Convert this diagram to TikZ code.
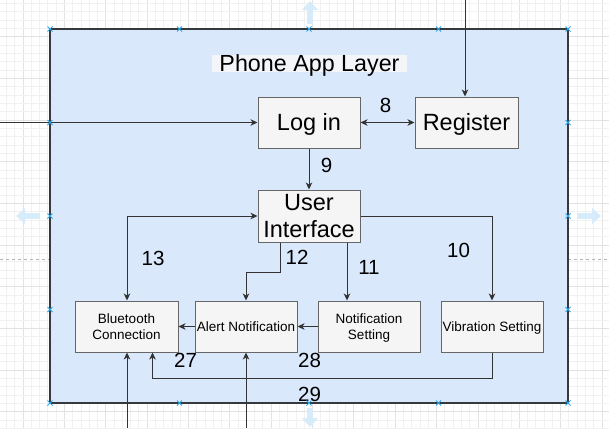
\documentclass[tikz,border=0pt]{standalone}
\usepackage{fontspec}
\setmainfont{Liberation Sans}
\usetikzlibrary{arrows.meta,calc}
\definecolor{contfill}{HTML}{DAE8FC}
\definecolor{contline}{HTML}{36393D}
\definecolor{boxfill}{HTML}{F5F5F5}
\definecolor{boxline}{HTML}{666666}
\definecolor{arrline}{HTML}{333333}
\definecolor{gridminor}{HTML}{F1F1F1}
\definecolor{gridmajor}{HTML}{E2E2E2}
\definecolor{hoverblue}{RGB}{214,236,250}
\definecolor{handle}{HTML}{29A8EC}
\definecolor{titlebg}{HTML}{F3F5F8}
\tikzset{
  bigbox/.style={draw=boxline, fill=boxfill, line width=1pt, inner sep=0pt,
    font=\fontsize{23.5}{27}\selectfont, align=center,
    text height=16.8pt, text depth=0pt},
  bigboxtwo/.style={bigbox, text height=43.8pt},
  smallbox/.style={draw=boxline, fill=boxfill, line width=1pt, inner sep=0pt,
    font=\fontsize{13.5}{16}\selectfont, align=center,
    text height=9.7pt, text depth=0pt,
    minimum width=102pt, minimum height=51pt},
  smallboxtwo/.style={smallbox, text height=25.7pt},
  arr/.style={draw=arrline, line width=0.9pt, -{Stealth[length=7pt,width=6.5pt,inset=2pt]}},
  dblarr/.style={draw=arrline, line width=0.9pt, {Stealth[length=7pt,width=6.5pt,inset=2pt]}-{Stealth[length=7pt,width=6.5pt,inset=2pt]}},
  numlbl/.style={font=\fontsize{20.5}{24}\selectfont, inner sep=0pt, text height=14.7pt, text depth=0pt},
  handlemark/.style={draw=handle, line width=1pt},
}
\begin{document}
\begin{tikzpicture}[x=1pt,y=-1pt]
\useasboundingbox (0,0) rectangle (609,428);
\fill[white] (0,0) rectangle (609,428);
% grid
\foreach \k in {0,...,73} {
  \pgfmathsetmacro{\gx}{6.5+\k*8.27}
  \pgfmathtruncatemacro{\m}{mod(\k+3,5)}
  \ifnum\m=0 \draw[gridmajor, line width=0.8pt] (\gx,0) -- (\gx,428);
  \else \draw[gridminor, line width=0.8pt] (\gx,0) -- (\gx,428); \fi
}
\foreach \k in {0,...,51} {
  \pgfmathsetmacro{\gy}{3.5+\k*8.33}
  \pgfmathtruncatemacro{\m}{mod(\k+1,5)}
  \ifnum\m=0 \draw[gridmajor, line width=0.8pt] (0,\gy) -- (609,\gy);
  \else \draw[gridminor, line width=0.8pt] (0,\gy) -- (609,\gy); \fi
}
% page break dashes
\draw[gray!60, dashed, line width=0.7pt] (0,259) -- (50,259);
\draw[gray!60, dashed, line width=0.7pt] (568,259) -- (609,259);
% hover arrows
\fill[hoverblue] (307,8) rectangle (313,24);
\fill[hoverblue] (302,10) -- (310,1) -- (318,10) -- cycle;
\fill[hoverblue] (25,213) rectangle (40,219);
\fill[hoverblue] (25,208) -- (16,216) -- (25,224) -- cycle;
\fill[hoverblue] (577,213) rectangle (592,219);
\fill[hoverblue] (592,208) -- (601,216) -- (592,224) -- cycle;
\fill[hoverblue] (307,408) rectangle (313,419);
\fill[hoverblue] (302,418) -- (310,427) -- (318,418) -- cycle;
% container
\node[draw=contline, fill=contfill, line width=1.2pt, minimum width=518pt, minimum height=374pt, inner sep=0pt] (layer) at (309,216) {};
% title
\fill[titlebg] (212,55) rectangle (407,72);
\node[anchor=base, inner sep=0pt, font=\fontsize{23.3}{27}\selectfont] (title) at (309.5,71.5) {Phone App Layer};
% boxes
\node[bigbox, minimum width=102pt, minimum height=51pt] (login) at (309,122.5) {Log in};
\node[bigbox, minimum width=103pt, minimum height=51pt] (register) at (466.5,122.5) {Register};
\node[bigboxtwo, minimum width=102pt, minimum height=52pt] (ui) at (309,216) {User\\Interface};
\node[smallboxtwo, minimum width=103pt] (bt) at (126.5,326.5) {Bluetooth\\Connection};
\node[smallbox] (alert) at (246,326.5) {Alert Notification};
\node[smallboxtwo] (notif) at (369,326.5) {Notification\\Setting};
\node[smallbox] (vib) at (492,326.5) {Vibration Setting};
% free ends
\coordinate (inL) at (0,122.5);
\coordinate (inT) at (465,0);
\coordinate (inB1) at (127,428);
\coordinate (inB2) at (246,428);
% connectors
\draw[arr] (inL) -- (login.west);
\draw[arr] (inT) -- (inT |- register.north);
\draw[dblarr] (login.east) -- (register.west);
\draw[arr] (login.south) -- (ui.north);
\draw[arr] (ui.east) -| (vib.north);
\draw[arr] ([xshift=38pt]ui.south) -- ([xshift=38pt]ui.south |- notif.north);
\draw[arr] ([xshift=-29pt]ui.south) -- ++(0,30) -| (alert.north);
\draw[dblarr] ([xshift=0.5pt]bt.north) |- (ui.west);
\draw[arr] (notif.west) -- (alert.east);
\draw[arr] (alert.west) -- (bt.east);
\draw[arr] (vib.south) -- ++(0,26) -| ([xshift=26pt]bt.south);
\draw[arr] (inB1) -- (inB1 |- bt.south);
\draw[arr] (inB2) -- (alert.south);
% labels
\node[numlbl] (l8) at (385.5,105) {8};
\node[numlbl] (l9) at (326.5,165) {9};
\node[numlbl] (l10) at (458.5,250) {10};
\node[numlbl] (l11) at (369,267) {11};
\node[numlbl] (l12) at (297,257.5) {12};
\node[numlbl] (l13) at (153,258.5) {13};
\node[numlbl] (l27) at (185.5,360) {27};
\node[numlbl] (l28) at (309.5,360.5) {28};
\node[numlbl] (l29) at (309.5,394.5) {29};
% selection handles
\foreach \hx/\hy in {50/29,179.5/29,309/29,438.5/29,568/29,
                     50/403,179.5/403,309/403,438.5/403,568/403,
                     50/122.5,50/216,50/309.5,568/122.5,568/216,568/309.5} {
  \draw[handlemark] (\hx-2.5,\hy-2.5) -- (\hx+2.5,\hy+2.5);
  \draw[handlemark] (\hx-2.5,\hy+2.5) -- (\hx+2.5,\hy-2.5);
}
\end{tikzpicture}
\end{document}
